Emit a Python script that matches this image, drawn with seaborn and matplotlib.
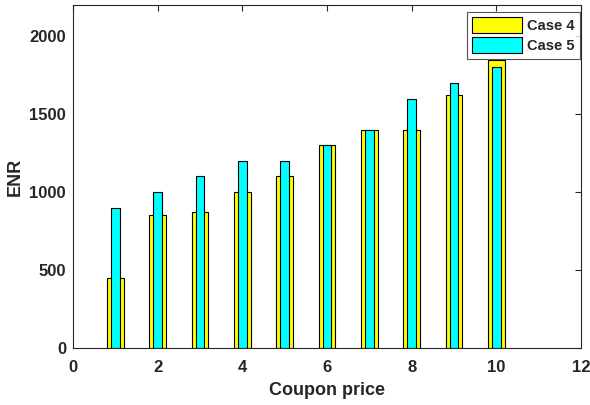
import matplotlib
matplotlib.use("Agg")
import matplotlib.pyplot as plt
import seaborn as sns
import pandas as pd

# ENR for each coupon price under the two cases
coupon_price = [1, 2, 3, 4, 5, 6, 7, 8, 9, 10]
case4_enr = [450, 850, 870, 1000, 1100, 1300, 1400, 1400, 1620, 1850]
case5_enr = [900, 1000, 1100, 1200, 1200, 1300, 1400, 1600, 1700, 1800]

df4 = pd.DataFrame({"price": coupon_price, "enr": case4_enr})
df5 = pd.DataFrame({"price": coupon_price, "enr": case5_enr})

sns.set_style("white")
plt.rcParams["font.family"] = ["Liberation Sans", "DejaVu Sans"]
plt.rcParams["font.weight"] = "bold"

fig = plt.figure(figsize=(5.9, 4.05), dpi=100)
ax = fig.add_axes([0.1237, 0.1407, 0.861, 0.847])

ink = "#262626"
sns.barplot(data=df4, x="price", y="enr", native_scale=True, width=0.4,
            color="#ffff00", saturation=1, edgecolor="black", linewidth=0.8,
            label="Case 4", ax=ax, errorbar=None)
sns.barplot(data=df5, x="price", y="enr", native_scale=True, width=0.2,
            color="#00ffff", saturation=1, edgecolor="black", linewidth=0.8,
            label="Case 5", ax=ax, errorbar=None)

ax.set_xlim(0, 12)
ax.set_ylim(0, 2200)
ax.set_xticks(range(0, 13, 2))
ax.set_yticks(range(0, 2001, 500))

for side in ax.spines.values():
    side.set_color(ink)
    side.set_linewidth(0.8)
ax.tick_params(direction="in", length=4, width=0.8, colors=ink,
               top=True, right=True, labelsize=12)
ax.tick_params(axis="x", pad=8.5)
ax.tick_params(axis="y", pad=5)
for lab in ax.get_xticklabels() + ax.get_yticklabels():
    lab.set_fontweight("bold")

ax.set_xlabel("Coupon price", fontsize=13, fontweight="bold", color=ink, labelpad=5)
ax.set_ylabel("ENR", fontsize=13, fontweight="bold", color=ink, labelpad=4)

leg = ax.legend(loc="upper right", bbox_to_anchor=(0.998, 0.9796),
                borderaxespad=0, frameon=True, fancybox=False,
                edgecolor=ink, handlelength=3.4, handleheight=1.35,
                labelspacing=0.25, handletextpad=0.36, borderpad=0.35,
                prop={"weight": "bold", "size": 10.5})
leg.get_frame().set_linewidth(0.8)

fig.savefig("out.png", dpi=100)
